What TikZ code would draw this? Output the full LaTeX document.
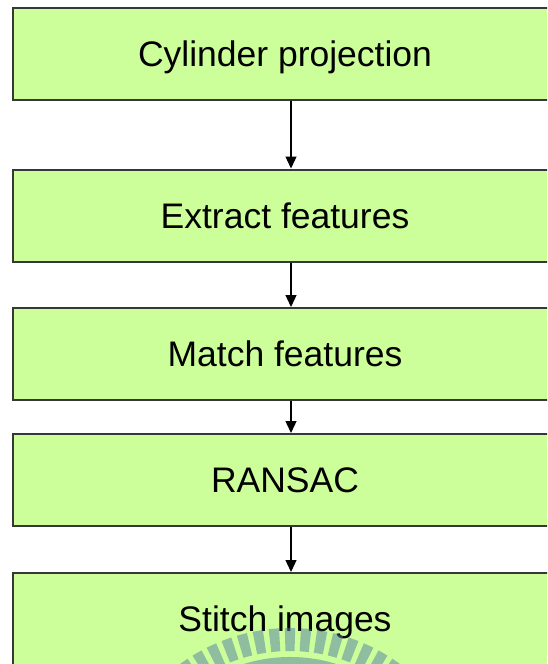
\documentclass[tikz,border=0pt]{standalone}
\usepackage{fontspec}
\setmainfont{Liberation Sans}
\usetikzlibrary{positioning, arrows.meta}

\definecolor{stepfill}{RGB}{204,255,153}
\definecolor{stepline}{RGB}{55,55,55}
\definecolor{sealblue}{RGB}{82,127,165}

\begin{document}
\begin{tikzpicture}[
    x=1pt,
    y=-1pt,
    >={Triangle[width=11pt,length=12pt]},
    stepbox/.style={
        draw=stepline,
        fill=stepfill,
        line width=2pt,
        minimum width=544pt,
        minimum height=92pt,
        inner sep=0pt,
        text height=25pt,
        text depth=0pt,
        font=\fontsize{35.5}{40}\selectfont
    },
    flow/.style={
        ->,
        line width=1.3pt,
        black
    }
]

\useasboundingbox (0,0) rectangle (547,664);
\clip (0,0) rectangle (547,664);

% =================================================
% PROCESSING STEPS
% =================================================

\node[stepbox] (cyl)     at (285,53.5) {Cylinder projection};
\node[stepbox] (extract) at (285,215.5) {Extract features};
\node[stepbox] (match)   at (285,354) {Match features};
\node[stepbox] (ransac)  at (285,480) {RANSAC};
\node[stepbox] (stitch)  at (285,619) {Stitch images};

% Connectors, slightly right of the box centres
\draw[flow] ([xshift=6pt]cyl.south)     -- ([xshift=6pt]extract.north);
\draw[flow] ([xshift=6pt]extract.south) -- ([xshift=6pt]match.north);
\draw[flow] ([xshift=6pt]match.south)   -- ([xshift=6pt]ransac.north);
\draw[flow] ([xshift=6pt]ransac.south)  -- ([xshift=6pt]stitch.north);

% =================================================
% SEAL AT THE BOTTOM
% (y points down, so "up" means negative angles)
% =================================================

\begin{scope}[
    fill=sealblue,
    fill opacity=0.5
]
    % Radial teeth
    \foreach \a in {-140,-135,...,-40}{
        \fill (290,814) ++(\a-1.6:163) arc[start angle=\a-1.6, end angle=\a+1.6, radius=163]
              -- ++(\a+1.6:23) arc[start angle=\a+1.6, end angle=\a-1.6, radius=186] -- cycle;
    }

    % Inner ring
    \fill (290,814) ++(-150:157) arc[start angle=-150, end angle=-30, radius=157]
          -- ++(-30:-10) arc[start angle=-30, end angle=-150, radius=147] -- cycle;
\end{scope}

\end{tikzpicture}
\end{document}
